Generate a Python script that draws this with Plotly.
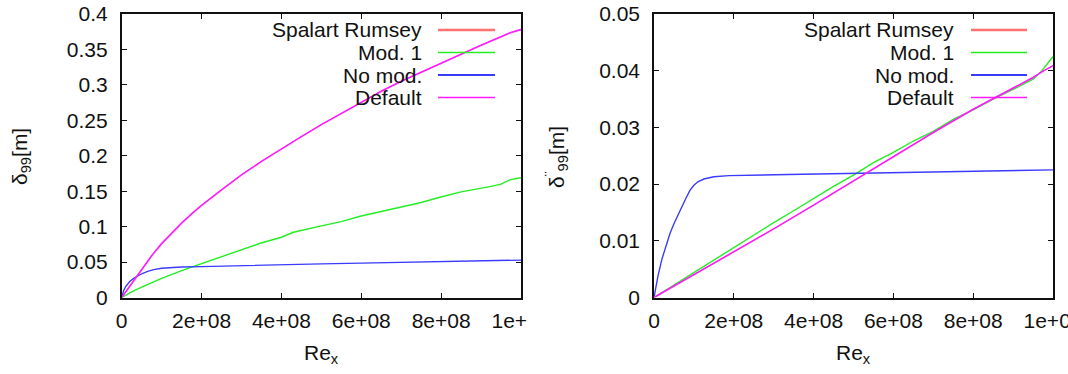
import plotly.graph_objects as go

# ---------------- data ----------------
# Left panel
re_def_L = [0, 0.25e8, 0.5e8, 0.75e8, 1e8, 1.25e8, 1.5e8, 1.75e8, 2e8, 2.5e8, 3e8, 3.5e8, 4e8,
            4.5e8, 5e8, 5.5e8, 6e8, 6.5e8, 7e8, 7.5e8, 8e8, 8.5e8, 9e8, 9.5e8, 9.75e8, 1e9]
default_L = [0, 0.020, 0.040, 0.059, 0.076, 0.091, 0.105, 0.118, 0.130, 0.152, 0.173, 0.192, 0.210,
             0.227, 0.244, 0.260, 0.276, 0.291, 0.305, 0.318, 0.331, 0.344, 0.356, 0.368, 0.374, 0.378]

re_mod_L = [0, 0.25e8, 0.5e8, 1e8, 1.5e8, 1.75e8, 2e8, 2.5e8, 3e8, 3.47e8, 4e8, 4.3e8, 5e8, 5.5e8,
            5.97e8, 6.5e8, 7.05e8, 7.5e8, 7.97e8, 8.5e8, 9.22e8, 9.5e8, 9.72e8, 1e9]
mod1_L = [0, 0.008, 0.0145, 0.027, 0.038, 0.043, 0.048, 0.057, 0.067, 0.0765, 0.085, 0.092, 0.101,
          0.107, 0.1146, 0.121, 0.128, 0.134, 0.1414, 0.149, 0.1564, 0.160, 0.166, 0.169]

re_nom_L = [0, 0.05e8, 0.1e8, 0.2e8, 0.3e8, 0.4e8, 0.5e8, 0.65e8, 0.8e8, 1e8, 1.25e8, 1.5e8, 2e8,
            3.33e8, 5e8, 6e8, 8e8, 1e9]
nomod_L = [0, 0.0100, 0.0155, 0.0225, 0.0270, 0.0305, 0.0335, 0.0368, 0.0393, 0.0413, 0.0425,
           0.0431, 0.0436, 0.0458, 0.0475, 0.0485, 0.0505, 0.0528]

# Right panel
re_def_R = [0, 1e8, 2e8, 3e8, 4e8, 5e8, 6e8, 7e8, 8e8, 9e8, 9.5e8, 9.72e8, 1e9]
default_R = [0, 0.0040, 0.0080, 0.0121, 0.0163, 0.0206, 0.0249, 0.0291, 0.0332, 0.0370, 0.0388,
             0.0398, 0.0409]

re_mod_R = [0, 0.5e8, 1e8, 1.5e8, 2e8, 2.5e8, 3e8, 3.5e8, 4e8, 4.5e8, 5e8, 5.5e8, 6e8, 6.5e8,
            7e8, 7.5e8, 8e8, 8.5e8, 9e8, 9.5e8, 9.7e8, 1e9]
mod1_R = [0, 0.0022, 0.0045, 0.0066, 0.0088, 0.0110, 0.0132, 0.0153, 0.0175, 0.0196, 0.0216,
          0.0238, 0.0256, 0.0276, 0.0293, 0.0314, 0.0331, 0.0350, 0.0367, 0.0385, 0.0398, 0.0425]

re_nom_R = [0, 0.1e8, 0.2e8, 0.3e8, 0.4e8, 0.5e8, 0.6e8, 0.7e8, 0.8e8, 0.9e8, 1e8, 1.1e8, 1.25e8,
            1.5e8, 1.875e8, 3.375e8, 6e8, 8e8, 1e9]
nomod_R = [0, 0.0038, 0.0068, 0.0092, 0.0113, 0.0130, 0.0146, 0.0160, 0.0175, 0.0189, 0.0198,
           0.0204, 0.0209, 0.0213, 0.0215, 0.0217, 0.0220, 0.0222, 0.0225]

series_names = ["Spalart Rumsey", "Mod. 1", "No mod.", "Default"]
series_colors = ["#ff7070", "#22ee22", "#3b3bff", "#ff1aff"]

x_tickvals = [0, 2e8, 4e8, 6e8, 8e8, 1e9]
x_ticktext = ["0", "2e+08", "4e+08", "6e+08", "8e+08", "1e+09"]
yL_tickvals = [0, 0.05, 0.1, 0.15, 0.2, 0.25, 0.3, 0.35, 0.4]
yL_ticktext = ["0", "0.05", "0.1", "0.15", "0.2", "0.25", "0.3", "0.35", "0.4"]
yR_tickvals = [0, 0.01, 0.02, 0.03, 0.04, 0.05]
yR_ticktext = ["0", "0.01", "0.02", "0.03", "0.04", "0.05"]

# ---------------- figure ----------------
W, H = 1068, 374
FONT = "Liberation Sans, Arial, sans-serif"
FS = 21

def px_x(p):
    return p / W

def px_y(p):
    return 1 - p / H

fig = go.Figure()

panels = [
    ("x", "y", re_def_L, default_L, re_mod_L, mod1_L, re_nom_L, nomod_L),
    ("x2", "y2", re_def_R, default_R, re_mod_R, mod1_R, re_nom_R, nomod_R),
]
for xa, ya, rd, d, rm, m, rn, n in panels:
    # Spalart Rumsey coincides with Default (hidden underneath)
    fig.add_trace(go.Scatter(x=rd, y=d, mode="lines", xaxis=xa, yaxis=ya, showlegend=False,
                             line=dict(color=series_colors[0], width=1), hoverinfo="skip"))
    fig.add_trace(go.Scatter(x=rm, y=m, mode="lines", xaxis=xa, yaxis=ya, showlegend=False,
                             line=dict(color=series_colors[1], width=1.4)))
    fig.add_trace(go.Scatter(x=rn, y=n, mode="lines", xaxis=xa, yaxis=ya, showlegend=False,
                             line=dict(color=series_colors[2], width=1.4)))
    fig.add_trace(go.Scatter(x=rd, y=d, mode="lines", xaxis=xa, yaxis=ya, showlegend=False,
                             line=dict(color=series_colors[3], width=1.6)))

axis_common = dict(showline=True, linecolor="#111", linewidth=1.6, mirror="allticks",
                   ticks="inside", ticklen=5, tickcolor="#111", tickwidth=1.2,
                   showgrid=False, zeroline=False, automargin=False, ticklabeloverflow="allow",
                   tickfont=dict(family=FONT, size=FS, color="#111"))

xL = (121.7, 521.0)
xR = (654.0, 1053.0)
yT, yB = 14.0, 297.5

fig.update_layout(
    width=W, height=H, margin=dict(l=0, r=0, t=0, b=0, autoexpand=False),
    paper_bgcolor="white", plot_bgcolor="white", showlegend=False,
    xaxis=dict(domain=[px_x(xL[0]), px_x(xL[1])], range=[0, 1e9], anchor="y",
               tickvals=x_tickvals, ticktext=x_ticktext, ticklabelstandoff=3, **axis_common),
    yaxis=dict(domain=[px_y(yB), px_y(yT)], range=[0, 0.4], anchor="x",
               tickvals=yL_tickvals, ticktext=yL_ticktext, ticklabelstandoff=8, **axis_common),
    xaxis2=dict(domain=[px_x(xR[0]), px_x(xR[1])], range=[0, 1e9], anchor="y2",
                tickvals=x_tickvals, ticktext=x_ticktext, ticklabelstandoff=3, **axis_common),
    yaxis2=dict(domain=[px_y(yB), px_y(yT)], range=[0, 0.05], anchor="x2",
                tickvals=yR_tickvals, ticktext=yR_ticktext, ticklabelstandoff=8, **axis_common),
)

annotations = []
shapes = []
# axis titles
for cx in [(xL[0] + xL[1]) / 2, (xR[0] + xR[1]) / 2]:
    annotations.append(dict(text="Re<sub>x</sub>", x=px_x(cx), y=px_y(354), xref="paper", yref="paper",
                            showarrow=False, xanchor="center", yanchor="middle",
                            font=dict(family=FONT, size=FS, color="#111")))
annotations.append(dict(text="δ<sub>99</sub>[m]", x=px_x(21), y=px_y(157), xref="paper", yref="paper",
                        showarrow=False, textangle=-90, xanchor="center", yanchor="middle",
                        font=dict(family=FONT, size=FS, color="#111")))
annotations.append(dict(text="δ<sup>¨</sup><sub>99</sub>[m]", x=px_x(556), y=px_y(157), xref="paper",
                        yref="paper", showarrow=False, textangle=-90, xanchor="center",
                        yanchor="middle", font=dict(family=FONT, size=FS, color="#111")))

# gnuplot-style key: right-aligned text with the line sample on its right
row_y = [30, 52.5, 75, 97.5]
sample_w = [2.6, 1.6, 2.0, 1.6]
for text_right, l0, l1 in [(424, 438, 495), (956, 971, 1027)]:
    for i, name in enumerate(series_names):
        annotations.append(dict(text=name, x=px_x(text_right), y=px_y(row_y[i]), xref="paper",
                                yref="paper", showarrow=False, xanchor="right", yanchor="middle",
                                font=dict(family=FONT, size=FS, color="#111")))
        shapes.append(dict(type="line", xref="paper", yref="paper",
                           x0=px_x(l0), x1=px_x(l1), y0=px_y(row_y[i]), y1=px_y(row_y[i]),
                           line=dict(color=series_colors[i], width=sample_w[i])))

# the left picture is cropped just after "1e+"
shapes.append(dict(type="rect", xref="paper", yref="paper", layer="above",
                   x0=px_x(527.5), x1=px_x(562), y0=px_y(345), y1=px_y(302),
                   fillcolor="white", line=dict(width=0)))

fig.update_layout(annotations=annotations, shapes=shapes)
fig.write_html("out.html")
